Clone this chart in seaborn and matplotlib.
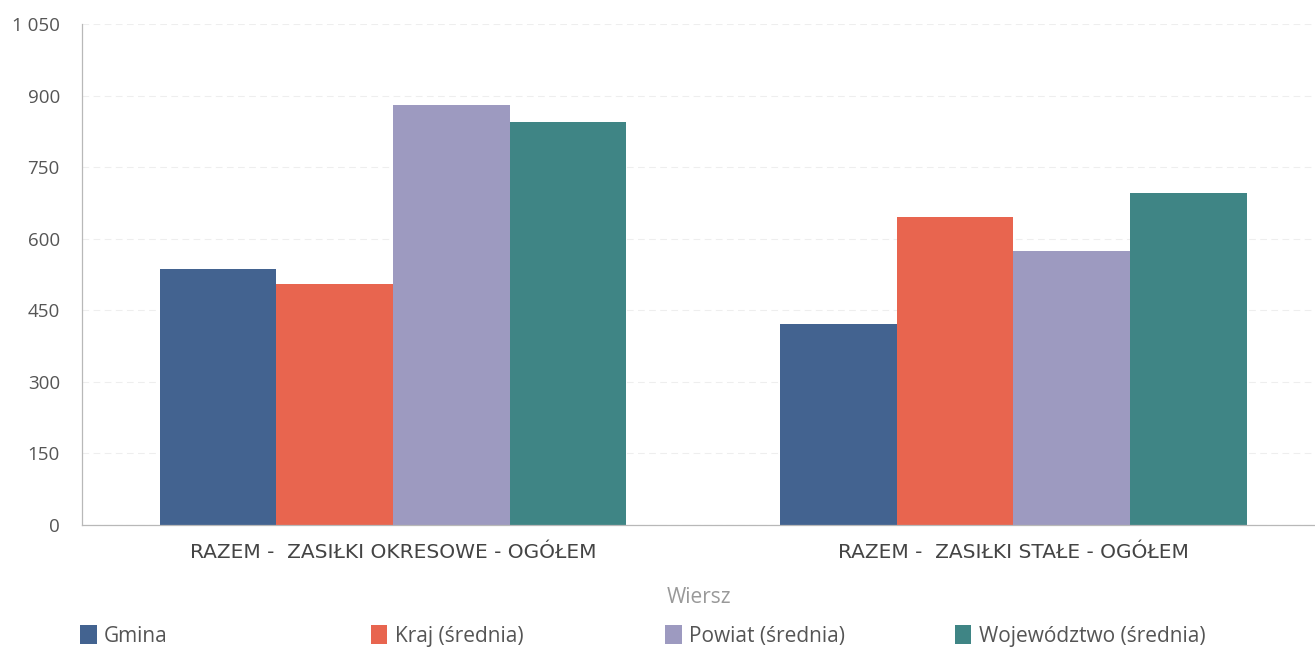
import matplotlib
matplotlib.use("Agg")
import matplotlib.pyplot as plt
import seaborn as sns
import pandas as pd
from matplotlib.ticker import FixedLocator, FuncFormatter

categories = ["RAZEM -  ZASIŁKI OKRESOWE - OGÓŁEM", "RAZEM -  ZASIŁKI STAŁE - OGÓŁEM"]
series = ["Gmina", "Kraj (średnia)", "Powiat (średnia)", "Województwo (średnia)"]
gmina = [537, 421]
kraj = [506, 645]
powiat = [880, 574]
wojewodztwo = [845, 696]
colors = ["#436390", "#e8654f", "#9d9ac0", "#3f8585"]
yticks = [0, 150, 300, 450, 600, 750, 900, 1050]

rows = []
for s, vals in zip(series, [gmina, kraj, powiat, wojewodztwo]):
    for c, v in zip(categories, vals):
        rows.append({"Wiersz": c, "Seria": s, "Wartość": v})
df = pd.DataFrame(rows)

sns.set_theme(style="white")
plt.rcParams["font.family"] = ["Open Sans", "DejaVu Sans"]

fig = plt.figure(figsize=(13.15, 6.49), dpi=100)
ax = fig.add_axes([0.0624, 0.191, 0.9376, 0.772])

sns.barplot(data=df, x="Wiersz", y="Wartość", hue="Seria", hue_order=series,
            palette=colors, width=0.752, saturation=1, ax=ax, legend=False,
            edgecolor="none", linewidth=0)

ax.set_xlim(-0.501, 1.486)
ax.set_ylim(0, 1050)
ax.yaxis.set_major_locator(FixedLocator(yticks))
ax.yaxis.set_major_formatter(FuncFormatter(lambda v, p: f"{int(v):,}".replace(",", " ")))
ax.grid(axis="y", color="#eeeeee", linewidth=0.8, linestyle=(0, (6, 4)))
ax.set_axisbelow(True)
for sp in ["top", "right"]:
    ax.spines[sp].set_visible(False)
ax.spines["left"].set_color("#b8b8b8")
ax.spines["bottom"].set_color("#b8b8b8")
ax.spines["left"].set_linewidth(0.9)
ax.spines["bottom"].set_linewidth(0.9)
ax.tick_params(axis="y", labelsize=13.5, labelcolor="#555555", length=0, pad=16)
ax.tick_params(axis="x", length=0, pad=13)
for lbl in ax.get_xticklabels():
    lbl.set_fontfamily(["DejaVu Sans"])
    lbl.set_fontsize(14.5)
    lbl.set_color("#444444")
ax.set_ylabel("")
ax.set_xlabel("Wiersz", fontsize=15, color="#999999", labelpad=18)

for i, (s, c) in enumerate(zip(series, colors)):
    x0 = [0.061, 0.282, 0.506, 0.726][i]
    h = plt.Rectangle((0, 0), 1, 1, facecolor=c, edgecolor="none")
    fig.legend([h], [s], loc="center left", bbox_to_anchor=(x0, 0.02),
               frameon=False, fontsize=15, handlelength=0.8, handleheight=1.05,
               handletextpad=0.35, labelcolor="#555555", borderpad=0,
               borderaxespad=0)

fig.savefig("out.png", dpi=100)
